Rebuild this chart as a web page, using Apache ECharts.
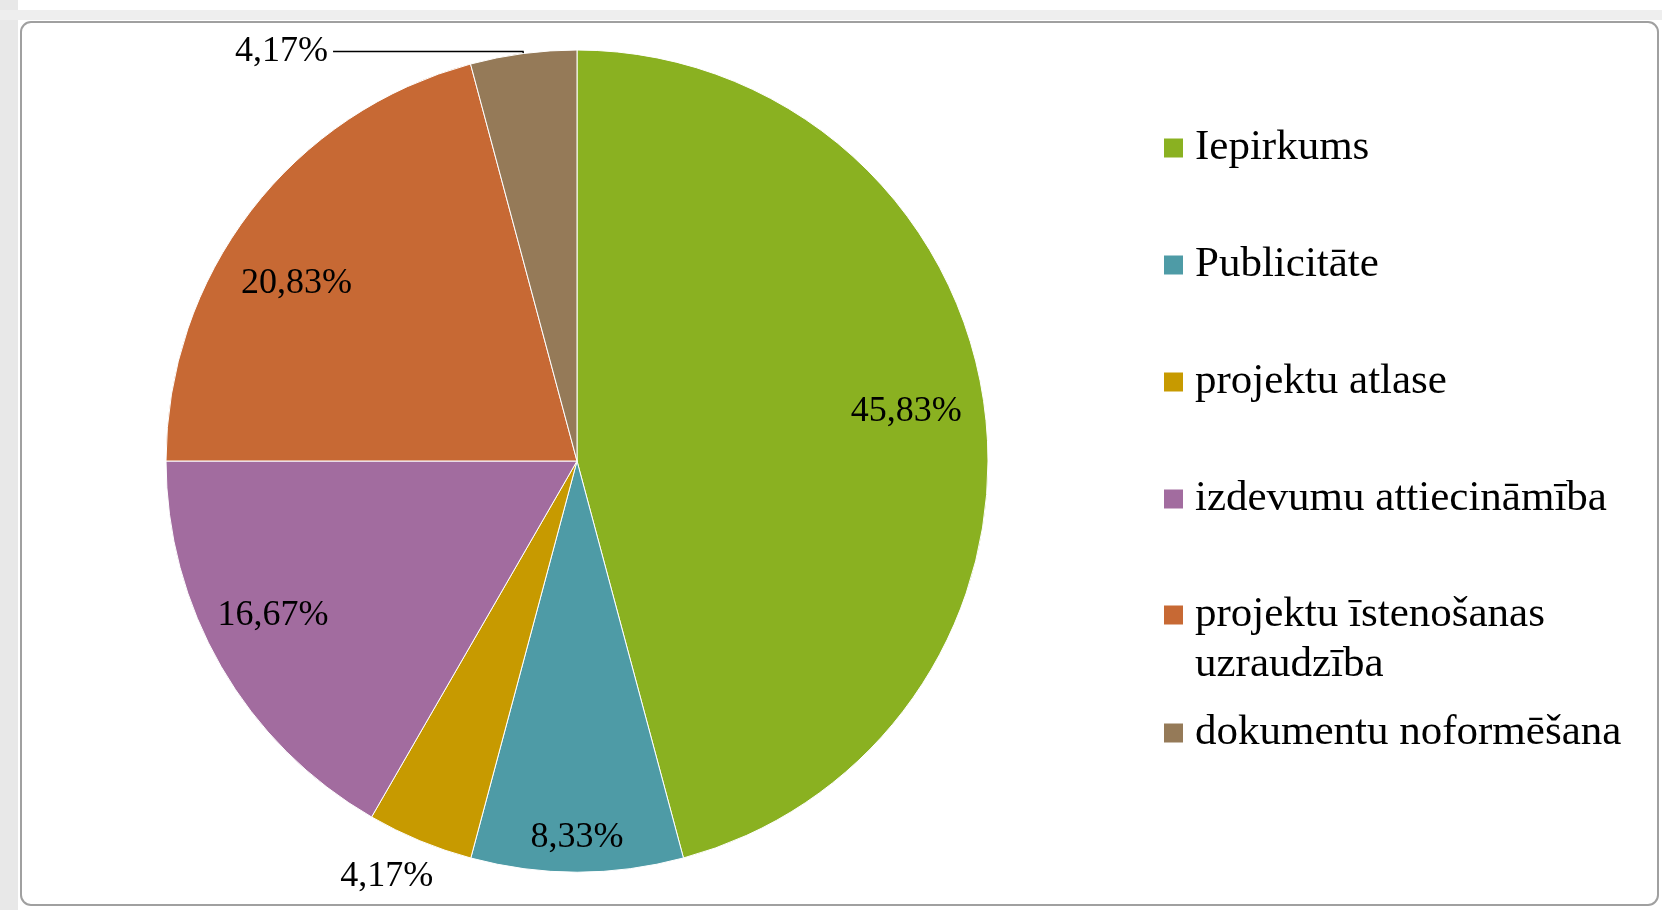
<!DOCTYPE html>
<html>
<head>
<meta charset="utf-8">
<script src="https://cdn.jsdelivr.net/npm/echarts@6/dist/echarts.min.js"></script>
<style>
html, body { margin: 0; padding: 0; background: #fff; }
#main { width: 1662px; height: 910px; }
</style>
</head>
<body>
<div id="main"></div>
<script>
var categories = ['Iepirkums', 'Publicitāte', 'projektu atlase', 'izdevumu attiecināmība', 'projektu īstenošanas uzraudzība', 'dokumentu noformēšana'];
var shares = [45.83, 8.33, 4.17, 16.67, 20.83, 4.17];
var sliceColors = ['#8ab121', '#4e9ba6', '#c79a00', '#a26c9f', '#c76934', '#957a58'];

var chart = echarts.init(document.getElementById('main'));

var serif = 'Liberation Serif';
var pieCenter = [577, 461];
var pieR = 411;
// small nudges of the percentage labels (Excel "best fit" placement)
var labelNudge = { 0: [-4, -6], 2: [-16, -5], 3: [-13, -13], 4: [-14, 27] };

function pct(p) {
    return p.value.toFixed(2).replace('.', ',') + '%';
}

// main pie, only the small top slice gets an outside label with a leader line
var mainData = categories.map(function (name, i) {
    var item = { name: name, value: shares[i], itemStyle: { color: sliceColors[i] } };
    if (i == 5) {
        item.label = { show: true, position: 'outside' };
        item.labelLine = { show: true, length: 2, length2: 190, lineStyle: { color: '#000', width: 1.5 } };
    }
    return item;
});

// transparent rings used only to place the inside labels
function labelRing(inner, outer, shown) {
    return {
        type: 'pie',
        silent: true,
        legendHoverLink: false,
        center: pieCenter,
        radius: [inner, outer],
        startAngle: 90,
        avoidLabelOverlap: false,
        emphasis: { disabled: true },
        label: { show: false },
        labelLine: { show: false },
        labelLayout: function (params) {
            var n = labelNudge[params.dataIndex];
            return n ? { dx: n[0], dy: n[1] } : {};
        },
        data: categories.map(function (name, i) {
            return {
                name: name,
                value: shares[i],
                itemStyle: { color: 'rgba(0,0,0,0)', borderWidth: 0 },
                label: {
                    show: shown.indexOf(i) >= 0,
                    position: 'inside',
                    formatter: pct,
                    color: '#000',
                    fontFamily: serif,
                    fontSize: 36
                }
            };
        })
    };
}

var legendBase = {
    orient: 'vertical',
    left: 1164,
    padding: 0,
    icon: 'rect',
    itemWidth: 19,
    itemHeight: 19,
    selectedMode: false,
    itemStyle: { borderWidth: 0 },
    textStyle: { color: '#000', fontFamily: serif, fontSize: 43, lineHeight: 50, padding: [0, 0, 0, 7] }
};

var option = {
    backgroundColor: '#fff',
    graphic: [
        { type: 'rect', left: 0, top: 0, shape: { width: 18, height: 910 }, style: { fill: '#e8e8e8' }, silent: true },
        { type: 'rect', left: 0, top: 10, shape: { width: 1662, height: 10 }, style: { fill: '#eeeeee' }, silent: true },
        {
            type: 'rect', left: 20, top: 21,
            shape: { width: 1637, height: 883, r: 10 },
            style: { fill: '#fff', stroke: '#a0a0a0', lineWidth: 2 },
            silent: true, z: -1
        }
    ],
    legend: [
        Object.assign({}, legendBase, { top: 123, itemGap: 67, data: categories.slice(0, 4) }),
        Object.assign({}, legendBase, {
            top: 540,
            data: [categories[4]],
            // empty first line keeps the marker level with the first text line
            formatter: function (name) { return '\n' + name.replace('īstenošanas ', 'īstenošanas\n'); }
        }),
        Object.assign({}, legendBase, { top: 708, data: [categories[5]] })
    ],
    series: [
        {
            type: 'pie',
            center: pieCenter,
            radius: pieR,
            startAngle: 90,
            clockwise: true,
            avoidLabelOverlap: false,
            emphasis: { disabled: true },
            itemStyle: { borderColor: '#fff', borderWidth: 1 },
            label: { show: false, formatter: pct, color: '#000', fontFamily: serif, fontSize: 36 },
            labelLine: { show: false },
            data: mainData
        },
        labelRing(255, pieR, [0, 3, 4]),
        labelRing(337, pieR, [1]),
        labelRing(pieR, 494, [2])
    ]
};

chart.setOption(option);
window.addEventListener('resize', function () {
    chart.resize();
});
</script>
</body>
</html>
